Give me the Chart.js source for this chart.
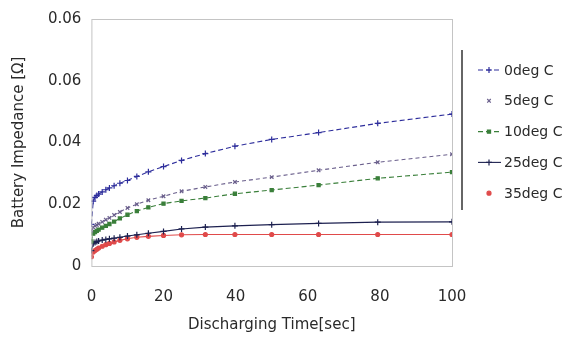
<!DOCTYPE html>
<html>
<head>
<meta charset="utf-8">
<script src="https://cdn.jsdelivr.net/npm/chart.js@4.4.1/dist/chart.umd.min.js"></script>
<style>
  html, body { margin: 0; padding: 0; background: #fff; }
  #wrap { width: 566px; height: 342px; position: relative; }
</style>
</head>
<body>
<div id="wrap"><canvas id="c"></canvas></div>
<script>
// Batterie-Impedanz über Entladezeit, 5 Temperaturen
const times = [0, 0.5, 1, 1.5, 2, 3, 4, 5, 6.3, 7.9, 10, 12.6, 15.8, 20, 25, 31.6, 39.8, 50, 63, 79.4, 100];

const deg0  = [0.0135, 0.0210, 0.0222, 0.0228, 0.0233, 0.0240, 0.0247, 0.0253, 0.0260, 0.0268, 0.0277, 0.0290, 0.0305, 0.0322, 0.0342, 0.0364, 0.0388, 0.0410, 0.0432, 0.0462, 0.0492];
const deg5  = [0.0115, 0.0125, 0.0130, 0.0133, 0.0137, 0.0143, 0.0150, 0.0156, 0.0165, 0.0175, 0.0188, 0.0200, 0.0213, 0.0226, 0.0242, 0.0256, 0.0272, 0.0288, 0.0310, 0.0336, 0.0362];
const deg10 = [0.0080, 0.0105, 0.0110, 0.0114, 0.0118, 0.0124, 0.0130, 0.0136, 0.0144, 0.0154, 0.0166, 0.0178, 0.0190, 0.0202, 0.0211, 0.0220, 0.0234, 0.0246, 0.0262, 0.0284, 0.0304];
const deg25 = [0.0050, 0.0072, 0.0076, 0.0079, 0.0081, 0.0084, 0.0086, 0.0088, 0.0090, 0.0093, 0.0097, 0.0101, 0.0106, 0.0112, 0.0120, 0.0126, 0.0130, 0.0134, 0.0138, 0.0142, 0.0143];
const deg35 = [0.0030, 0.0045, 0.0050, 0.0054, 0.0058, 0.0064, 0.0069, 0.0073, 0.0078, 0.0083, 0.0088, 0.0093, 0.0096, 0.0099, 0.0101, 0.0102, 0.0102, 0.0102, 0.0102, 0.0102, 0.0102];

const seriesNames = ["0deg C", "5deg C", "10deg C", "25deg C", "35deg C"];
const yTickLabels = ["0", "0.02", "0.04", "0.06", "0.06"];
const xTickLabels = ["0", "20", "40", "60", "80", "100"];

const FONT = "'DejaVu Sans', sans-serif";
const TXT = "#2a2a2a";

const pts = (vals) => vals.map((v, i) => ({ x: times[i], y: v }));

const styles = [
  { color: "#2e2e9c", dash: [5, 3], point: "cross",    r: 3 },
  { color: "#6a5f8c", dash: [4, 3], point: "crossRot", r: 2.5 },
  { color: "#3a7f3a", dash: [5, 3], point: "rect",     r: 2.2 },
  { color: "#1d2150", dash: [],     point: "cross",    r: 3 },
  { color: "#e04a4a", dash: [],     point: "circle",   r: 2 },
];

const datasets = [deg0, deg5, deg10, deg25, deg35].map((vals, i) => ({
  label: seriesNames[i],
  data: pts(vals),
  borderColor: styles[i].color,
  backgroundColor: styles[i].color,
  borderDash: styles[i].dash,
  borderWidth: 1.1,
  pointStyle: styles[i].point,
  pointRadius: styles[i].r,
  pointBorderWidth: 1.2,
  tension: 0,
}));

// Rahmen um die Plotfläche
const frame = {
  id: "frame",
  afterDatasetsDraw(chart) {
    const { ctx, chartArea: a } = chart;
    ctx.save();
    ctx.strokeStyle = "#c4c4c4";
    ctx.lineWidth = 1;
    ctx.strokeRect(a.left + 0.5, a.top + 0.5, a.right - a.left, a.bottom - a.top);
    ctx.restore();
  }
};

// Legende rechts, im Excel-Stil mit Strich links
const sideLegend = {
  id: "sideLegend",
  afterDraw(chart) {
    const { ctx } = chart;
    ctx.save();
    ctx.strokeStyle = "#333";
    ctx.lineWidth = 1.5;
    ctx.beginPath();
    ctx.moveTo(462, 50); ctx.lineTo(462, 210);
    ctx.stroke();
    ctx.font = "14px " + FONT;
    ctx.textBaseline = "middle";
    ctx.textAlign = "left";
    chart.data.datasets.forEach((ds, i) => {
      const y = 70 + i * 30.8;
      ctx.strokeStyle = ds.borderColor;
      ctx.fillStyle = ds.backgroundColor;
      ctx.lineWidth = 1.1;
      ctx.setLineDash(ds.borderDash);
      if (i !== 1 && i !== 4) {
        ctx.beginPath(); ctx.moveTo(478, y); ctx.lineTo(501, y); ctx.stroke();
      }
      ctx.setLineDash([]);
      ctx.lineWidth = 1.2;
      Chart.helpers.drawPoint(ctx, { pointStyle: ds.pointStyle, radius: ds.pointRadius, rotation: 0, borderWidth: 1.2 }, 489, y);
      ctx.fillStyle = TXT;
      ctx.fillText(ds.label, 504, y + 1);
    });
    ctx.restore();
  }
};

new Chart(document.getElementById("c"), {
  type: "line",
  data: { datasets },
  options: {
    responsive: true, maintainAspectRatio: false, animation: false,
    layout: { padding: { left: 10, right: 114, top: 0, bottom: 8 } },
    plugins: { legend: { display: false }, tooltip: { enabled: false } },
    scales: {
      x: {
        type: "linear", min: 0, max: 100,
        ticks: {
          stepSize: 20, color: TXT, padding: 22, font: { family: FONT, size: 15 },
          callback: (v) => xTickLabels[Math.round(v / 20)]
        },
        grid: { display: false, drawTicks: false },
        border: { display: false },
        title: { display: true, text: "Discharging Time[sec]", color: TXT,
                 font: { family: FONT, size: 15 }, padding: { top: -12, bottom: 0 } }
      },
      y: {
        min: 0, max: 0.08,
        ticks: {
          stepSize: 0.02, color: TXT, padding: 10, font: { family: FONT, size: 15 },
          callback: (v) => yTickLabels[Math.round(v / 0.02)]
        },
        grid: { display: false, drawTicks: false },
        border: { display: false },
        title: { display: true, text: "Battery Impedance [Ω]", color: TXT,
                 font: { family: FONT, size: 15 }, padding: { top: 0, bottom: 10 } }
      }
    }
  },
  plugins: [frame, sideLegend]
});
</script>
</body>
</html>
